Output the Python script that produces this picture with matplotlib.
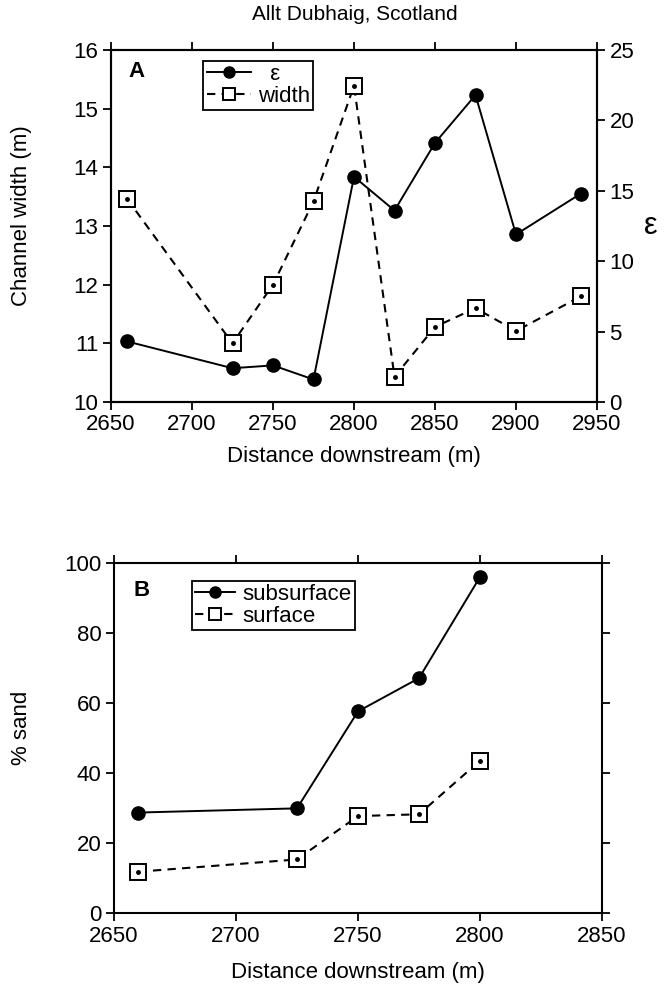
import matplotlib
matplotlib.use("Agg")
import matplotlib.pyplot as plt

plt.rcParams['font.family'] = ['Liberation Sans', 'DejaVu Sans']
plt.rcParams['font.size'] = 16

# Panel A: channel width and epsilon along the reach
dist_a = [2660, 2725, 2750, 2775, 2800, 2825, 2850, 2875, 2900, 2940]
eps = [4.3, 2.4, 2.6, 1.6, 16.0, 13.6, 18.4, 21.8, 11.9, 14.8]
width = [13.46, 11.0, 12.0, 13.42, 15.39, 10.43, 11.28, 11.6, 11.21, 11.8]

# Panel B: sand fraction
dist_b = [2660, 2725, 2750, 2775, 2800]
subsurface = [28.7, 29.9, 57.6, 67.1, 96.0]
surface = [11.8, 15.3, 27.7, 28.2, 43.5]

W, H = 670, 990
fig = plt.figure(figsize=(W / 100, H / 100), dpi=100)


def px_axes(left, top, right, bottom):
    return fig.add_axes([left / W, 1 - bottom / H, (right - left) / W, (bottom - top) / H])


def style(ax):
    for s in ax.spines.values():
        s.set_linewidth(1.5)
    ax.tick_params(direction='out', length=6, width=1.3, pad=3, labelsize=16)


solid = dict(color='black', lw=1.4, marker='o', ms=9.5, mfc='black', mec='black')
dashed = dict(color='black', lw=1.5, ls=(0, (4, 3)), marker='s', ms=11,
              mfc='white', mec='black', mew=1.4)

# ---- panel A ----
ax = px_axes(111, 50, 597, 402)
ax2 = ax.twinx()
style(ax)
style(ax2)
h_w, = ax.plot(dist_a, width, **dashed)
ax.plot(dist_a, width, ls='none', marker='o', ms=2.5, color='black')
h_e, = ax2.plot(dist_a, eps, **solid)
ax.set_xlim(2650, 2950)
ax.set_ylim(10, 16)
ax2.set_ylim(0, 25)
ax.set_xticks(range(2650, 2951, 50))
ax.set_yticks(range(10, 17))
ax2.set_yticks(range(0, 26, 5))
ax.tick_params(top=True)
ax.set_xlabel('Distance downstream (m)', fontsize=16)
ax.xaxis.label.set_va('center')
ax.xaxis.set_label_coords(0.5, -0.155)
ax.set_ylabel('Channel width (m)', fontsize=16)
ax.yaxis.label.set_va('center')
ax.yaxis.set_label_coords(-0.184, 0.53)
ax2.set_ylabel('ε', rotation=0, fontsize=22, va='center', ha='center')
ax2.yaxis.set_label_coords(1.11, 0.50)
ax.text(0.035, 0.94, 'A', transform=ax.transAxes, fontsize=16,
        fontweight='bold', ha='left', va='center')
leg = ax.legend([h_e, h_w], ['  ε', 'width'], loc='upper left',
                bbox_to_anchor=(0.19, 0.97), fontsize=16, frameon=True,
                fancybox=False, framealpha=1, edgecolor='black',
                borderpad=0.15, labelspacing=0.05, handlelength=2.0,
                handletextpad=0.3, borderaxespad=0)
leg.get_frame().set_linewidth(1.3)
for lh in leg.legend_handles:
    lh.set_markersize(8)

fig.text(355 / W, 1 - 15 / H, 'Allt Dubhaig, Scotland', ha='center',
         va='center', fontsize=15)

# ---- panel B ----
bx = px_axes(114, 563, 602, 913)
style(bx)
h_sub, = bx.plot(dist_b, subsurface, **solid)
h_sur, = bx.plot(dist_b, surface, **dashed)
bx.plot(dist_b, surface, ls='none', marker='o', ms=2.5, color='black')
bx.set_xlim(2650, 2850)
bx.set_ylim(0, 100)
bx.set_xticks(range(2650, 2851, 50))
bx.set_yticks(range(0, 101, 20))
bx.tick_params(top=True, right=True)
bx.set_xlabel('Distance downstream (m)', fontsize=16)
bx.xaxis.label.set_va('center')
bx.xaxis.set_label_coords(0.5, -0.17)
bx.set_ylabel('% sand', fontsize=16)
bx.yaxis.label.set_va('center')
bx.yaxis.set_label_coords(-0.19, 0.53)
bx.text(0.04, 0.92, 'B', transform=bx.transAxes, fontsize=16,
        fontweight='bold', ha='left', va='center')
leg_b = bx.legend([h_sub, h_sur], ['subsurface', 'surface'], loc='upper left',
                  bbox_to_anchor=(0.16, 0.95), fontsize=16, frameon=True,
                  fancybox=False, framealpha=1, edgecolor='black',
                  borderpad=0.15, labelspacing=0.05, handlelength=1.8,
                  handletextpad=0.3, borderaxespad=0)
leg_b.get_frame().set_linewidth(1.3)
for lh in leg_b.legend_handles:
    lh.set_markersize(8)

fig.savefig('out.png', dpi=100)
